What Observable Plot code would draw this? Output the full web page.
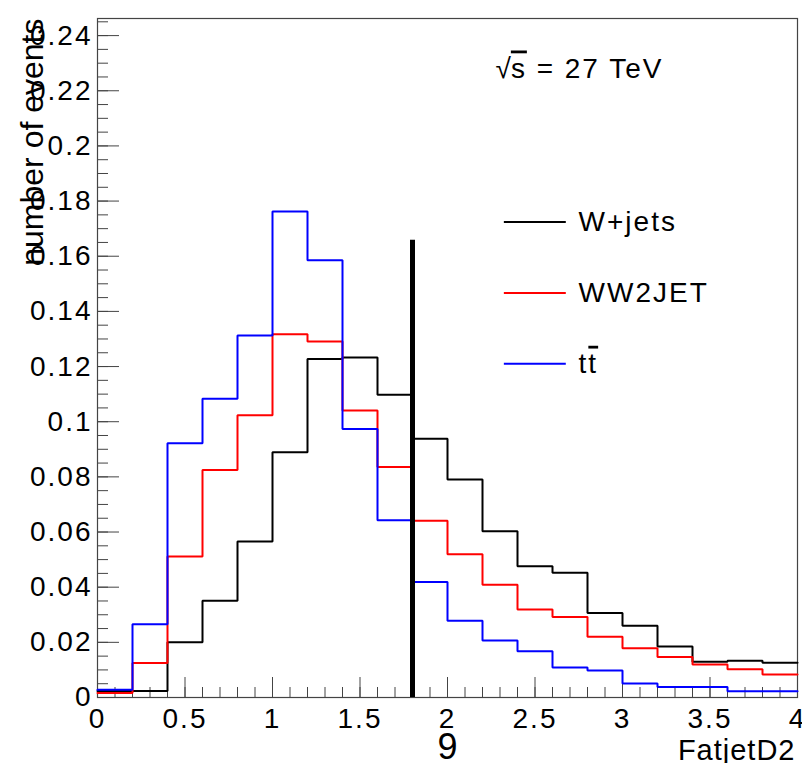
<!DOCTYPE html>
<html>
<head>
<meta charset="utf-8">
<script src="https://cdn.jsdelivr.net/npm/d3@7"></script>
<script src="https://cdn.jsdelivr.net/npm/@observablehq/plot@0.6"></script>
<style>
  html, body { margin: 0; padding: 0; background: #fff; }
</style>
</head>
<body>
<div id="chart"></div>
<script>
// ---- data ----
const binLow = 0;
const binWidth = 0.2;
const wjets  = [0.0024, 0.0024, 0.0200, 0.0351, 0.0566, 0.0889, 0.1227, 0.1233, 0.1098, 0.0938,
                0.0790, 0.0603, 0.0476, 0.0452, 0.0306, 0.0260, 0.0185, 0.0130, 0.0133, 0.0126];
const ww2jet = [0.0016, 0.0125, 0.0511, 0.0825, 0.1023, 0.1317, 0.1291, 0.1041, 0.0836, 0.0641,
                0.0519, 0.0409, 0.0319, 0.0292, 0.0220, 0.0179, 0.0147, 0.0120, 0.0102, 0.0083];
const ttbar  = [0.0028, 0.0266, 0.0922, 0.1083, 0.1313, 0.1762, 0.1585, 0.0974, 0.0643, 0.0419,
                0.0278, 0.0207, 0.0168, 0.0109, 0.0098, 0.0051, 0.0038, 0.0038, 0.0023, 0.0023];
const seriesNames  = ["W+jets", "WW2JET", "tt\u0304"];
const seriesValues = [wjets, ww2jet, ttbar];
const seriesColors = ["#000000", "#ff0000", "#0000ff"];

const cutValue = 1.8;
const cutTop = 0.1658;

const xTickLabels = [0, 0.5, 1, 1.5, 2, 2.5, 3, 3.5, 4];
const yTickLabels = [0, 0.02, 0.04, 0.06, 0.08, 0.1, 0.12, 0.14, 0.16, 0.18, 0.2, 0.22, 0.24];
const xMinorTicks = d3.range(0, 41).map(i => i / 10);
const yMinorTicks = d3.range(0, 50).map(i => i * 0.005);

const xDomain = [0, 4];
const yDomain = [0, 0.2462];

const energyLabel = "\u221As = 27 TeV";
const xTitle = "FatjetD2";
const yTitle = "number of events";
const strayLabels = [{x: 2, text: "9"}];

// legend layout (in data units)
const legendX1 = 2.322, legendX2 = 2.676, legendTextX = 2.749;
const legendTop = 0.1724, legendStep = 0.0257;

// ---- build ----
const steps = seriesValues.flatMap((vals, s) =>
  vals.flatMap((v, i) => [
    {x: binLow + i * binWidth, y: v, s: seriesNames[s]},
    {x: binLow + (i + 1) * binWidth, y: v, s: seriesNames[s]}
  ])
);
const legendItems = seriesNames.map((name, i) => ({name, color: seriesColors[i], y: legendTop - i * legendStep}));

const W = 802, H = 763;
const mL = 97, mR = 5, mT = 18, mB = 66;
const innerW = W - mL - mR, innerH = H - mT - mB;
const axisColor = "#444";

const chart = Plot.plot({
  width: W,
  height: H,
  marginLeft: mL,
  marginRight: mR,
  marginTop: mT,
  marginBottom: mB,
  style: {fontFamily: "'Liberation Sans', Arial, Helvetica, sans-serif", fontSize: "28px", color: "#000", background: "#fff"},
  x: {domain: xDomain},
  y: {domain: yDomain},
  color: {domain: seriesNames, range: seriesColors},
  marks: [
    // ticks (inside)
    Plot.tickX(xMinorTicks, {x: d => d, stroke: axisColor, strokeWidth: 1, insetTop: innerH - 10}),
    Plot.tickX(xTickLabels, {x: d => d, stroke: axisColor, strokeWidth: 1, insetTop: innerH - 20}),
    Plot.tickY(yMinorTicks, {y: d => d, stroke: axisColor, strokeWidth: 1, insetRight: innerW - 11}),
    Plot.tickY(yTickLabels, {y: d => d, stroke: axisColor, strokeWidth: 1, insetRight: innerW - 22}),
    Plot.frame({stroke: axisColor, strokeWidth: 1.2}),
    // tick labels
    Plot.axisX({ticks: xTickLabels, tickSize: 0, tickPadding: 11, tickFormat: d => String(d), label: null, fontSize: 28}),
    Plot.axisY({ticks: yTickLabels, tickSize: 0, tickPadding: 5, tickFormat: d => String(+d.toFixed(3)), label: null, fontSize: 28}),
    // histograms
    Plot.line(steps, {x: "x", y: "y", z: "s", stroke: "s", strokeWidth: 2, strokeLinejoin: "miter", curve: "linear"}),
    // cut line
    Plot.ruleX([cutValue], {x: d => d, y1: 0, y2: () => cutTop, stroke: "#000", strokeWidth: 5}),
    // legend
    Plot.link(legendItems, {x1: () => legendX1, x2: () => legendX2, y1: "y", y2: "y", stroke: "color", strokeWidth: 2}),
    Plot.text(legendItems, {x: () => legendTextX, y: "y", text: "name", textAnchor: "start", lineAnchor: "middle", fontSize: 28, fill: "#000"}),
    // energy label
    Plot.text([energyLabel], {text: d => d, frameAnchor: "top-left", dx: 398, dy: 59, textAnchor: "start", lineAnchor: "bottom", fontSize: 28, fill: "#000"}),
    // axis titles
    Plot.text([xTitle], {text: d => d, frameAnchor: "bottom-right", dx: -2, dy: 62, textAnchor: "end", lineAnchor: "bottom", fontSize: 29, fill: "#000"}),
    Plot.text([yTitle], {text: d => d, frameAnchor: "top-left", dx: -55, dy: 0, rotate: -90, textAnchor: "end", lineAnchor: "bottom", fontSize: 32, fill: "#000"}),
    // stray label
    Plot.text(strayLabels, {x: "x", text: "text", frameAnchor: "bottom", dy: 61, lineAnchor: "bottom", fontSize: 36, fill: "#000"})
  ]
});

// post-process: spacing and overlines
const svg = d3.select(chart);
svg.style("letter-spacing", "2px").style("overflow", "visible");
svg.selectAll("text").each(function() {
  const t = d3.select(this);
  const s = this.textContent;
  if (s === yTitle || s === "9") t.style("letter-spacing", "0px");
  if (s === xTitle) t.style("letter-spacing", "1px");
  if (s === "tt\u0304") {
    t.text(null);
    t.append("tspan").text("t");
    t.append("tspan").text("t").style("text-decoration", "overline");
  }
  if (s === energyLabel) {
    t.text(null);
    t.append("tspan").text("\u221A").style("letter-spacing", "0px");
    t.append("tspan").text("s").style("text-decoration", "overline");
    t.append("tspan").text(" = 27 TeV");
  }
});
document.getElementById("chart").appendChild(chart);
</script>
</body>
</html>
